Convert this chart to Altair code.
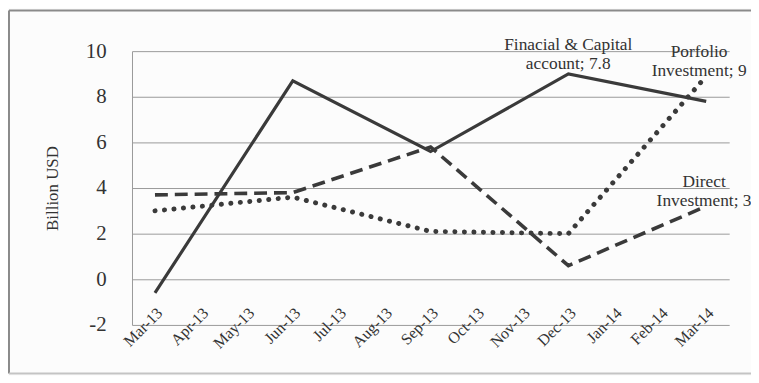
import altair as alt
import pandas as pd

months = ["Mar-13", "Apr-13", "May-13", "Jun-13", "Jul-13", "Aug-13", "Sep-13",
          "Oct-13", "Nov-13", "Dec-13", "Jan-14", "Feb-14", "Mar-14"]
quarters = ["Mar-13", "Jun-13", "Sep-13", "Dec-13", "Mar-14"]
fin_capital = [-0.6, 8.7, 5.6, 9.0, 7.8]
direct_inv = [3.7, 3.8, 5.8, 0.6, 3.2]
portfolio_inv = [3.0, 3.6, 2.1, 2.0, 8.9]

series_names = ["Finacial & Capital account", "Direct Investment", "Portfolio Investment"]
series_values = [fin_capital, direct_inv, portfolio_inv]

rows = []
for name, vals in zip(series_names, series_values):
    for m, v in zip(quarters, vals):
        rows.append({"month": m, "value": v, "series": name})
df = pd.DataFrame(rows)

label_texts = ["Finacial & Capital\naccount; 7.8", "Porfolio\nInvestment; 9", "Direct\nInvestment; 3"]
label_months = ["Dec-13", "Mar-14", "Mar-14"]
label_values = [10.25, 9.95, 4.25]
label_dx = [23, 16, 21]
labels_df = pd.DataFrame({"text": label_texts, "month": label_months, "value": label_values, "dx": label_dx})

FONT = "Liberation Serif, DejaVu Serif, serif"
INK = "#3a3a3a"

x_enc = alt.X("month:N", sort=months, scale=alt.Scale(domain=months, paddingInner=0, paddingOuter=0),
              axis=alt.Axis(title=None, labelAngle=-45, labelAlign="right", labelBaseline="middle",
                            labelPadding=-15, labelOffset=5, ticks=False, domain=False, grid=False,
                            labelFont=FONT, labelFontSize=16, labelColor="#333"))
y_enc = alt.Y("value:Q", scale=alt.Scale(domain=[-2, 10], nice=False, zero=False),
              axis=alt.Axis(title="Billion USD", values=[-2, 0, 2, 4, 6, 8, 10], ticks=False,
                            labelExpr="datum.value + ''",
                            domain=True, domainColor="#999", domainWidth=1,
                            grid=True, gridColor="#9a9a9a", gridWidth=1,
                            labelFont=FONT, labelFontSize=21, labelColor="#333", labelPadding=26,
                            titleFont=FONT, titleFontSize=17, titleFontWeight="normal",
                            titleColor="#333", titlePadding=24))

def line_for(name, dash, width, cap="butt"):
    kw = dict(color=INK, strokeWidth=width, strokeCap=cap)
    if dash:
        kw["strokeDash"] = dash
    return alt.Chart(df).transform_filter(alt.datum.series == name).mark_line(**kw).encode(
        x=x_enc, y=y_enc)

solid = line_for(series_names[0], None, 3.2)
dashed = line_for(series_names[1], [13, 7], 3.6)
dotted = line_for(series_names[2], [0.1, 9.5], 5, cap="round")

labels = alt.Chart(labels_df).mark_text(font=FONT, fontSize=17.5, color="#333", lineBreak="\n",
                                          lineHeight=19, baseline="middle", align="center").encode(
    x=alt.X("month:N", sort=months, scale=alt.Scale(domain=months, paddingInner=0, paddingOuter=0)),
    y=alt.Y("value:Q", scale=alt.Scale(domain=[-2, 10], nice=False, zero=False)),
    text="text:N",
    xOffset=alt.XOffset("dx:Q", scale=None),
)

frame_src = pd.DataFrame({"k": [0]})
frame_top = alt.Chart(frame_src).mark_rule(stroke="#8a8a8a", strokeWidth=2).encode(
    x=alt.value(-124), x2=alt.value(640), y=alt.value(-41))
frame_left = alt.Chart(frame_src).mark_rule(stroke="#8a8a8a", strokeWidth=2).encode(
    x=alt.value(-124), y=alt.value(-41), y2=alt.value(325))
frame_bottom = alt.Chart(frame_src).mark_rule(stroke="#c4c4c4", strokeWidth=2).encode(
    x=alt.value(-124), x2=alt.value(640), y=alt.value(325))

chart = alt.layer(frame_top, frame_left, frame_bottom, solid, dashed, dotted, labels).properties(
    width=602, height=276,
    padding={"left": 125, "top": 42, "right": 22, "bottom": 50},
    autosize=alt.AutoSizeParams(type="none"),
    background="#fcfcfc",
).configure_view(stroke=None)

chart.save("out.html", embed_options={"renderer": "svg", "actions": False})
